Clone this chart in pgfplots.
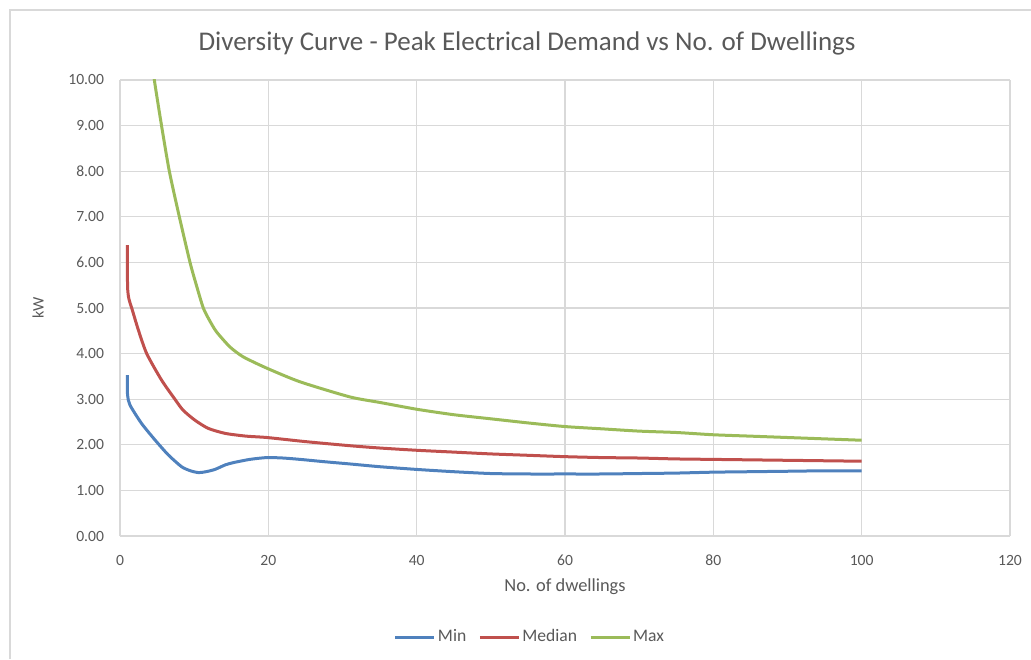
\documentclass[border=0pt]{standalone}
\usepackage{pgfplots}
\pgfplotsset{compat=1.18}
\usepackage{fontspec}
\setmainfont{Carlito}
\definecolor{txt}{HTML}{595959}
\definecolor{gridc}{HTML}{D9D9D9}
\definecolor{cmin}{HTML}{4F81BD}
\definecolor{cmed}{HTML}{C0504D}
\definecolor{cmax}{HTML}{9BBB59}
\begin{document}
\begin{tikzpicture}
\path[use as bounding box] (0,0) rectangle (515.5pt,329.5pt);
\draw[gridc, line width=0.6pt] (5pt,0) -- (5pt,324.5pt) -- (515.5pt,324.5pt);
\node[text=txt, font=\fontsize{13.5pt}{16pt}\selectfont, anchor=center] at (263.5pt,308pt) {Diversity Curve - Peak Electrical Demand vs No. of Dwellings};
\begin{axis}[
  at={(60pt,61.5pt)}, anchor=south west,
  scale only axis, width=445pt, height=228pt,
  xmin=0, xmax=120, ymin=0, ymax=10,
  xtick={0,20,...,120}, ytick={0,1,...,10},
  major tick length=0pt,
  grid=major, major grid style={gridc, line width=0.6pt},
  axis line style={gridc, line width=0.6pt},
  axis x line*=bottom, axis y line*=left,
  /pgf/number format/assume math mode=true,
  yticklabel={\pgfmathprintnumber[fixed,fixed zerofill,precision=2]{\tick}},
  ticklabel style={text=txt, font=\fontsize{7.8pt}{9pt}\selectfont},
  yticklabel style={anchor=east, xshift=-4.5pt},
  xticklabel style={anchor=center, yshift=-12pt},
  xlabel={No. of dwellings}, ylabel={kW},
  label style={text=txt, font=\fontsize{9.2pt}{11pt}\selectfont},
  xlabel style={at={(axis description cs:0.5,0)}, anchor=center, yshift=-25.5pt},
  ylabel style={at={(axis description cs:0,0.5)}, anchor=center, yshift=41pt, font=\fontsize{8pt}{10pt}\selectfont},
  legend columns=3,
  legend style={at={(0.5,0)}, anchor=center, xshift=-17.5pt, yshift=-49.5pt, draw=none, fill=none,
    font=\fontsize{8.8pt}{10pt}\selectfont, text=txt,
    nodes={inner sep=1pt, text height=1.6ex, text depth=0.3ex},
    /tikz/every even column/.append style={column sep=5pt},
    inner sep=0pt},
  legend image code/.code={\draw[#1, line width=1.5pt] (0pt,-0.3ex) -- (19.5pt,-0.3ex);},
  clip=true,
]
\addplot[cmin, line width=1.5pt, smooth, tension=0.4] coordinates {
(1,3.53) (1.02,3.09) (1.35,2.87) (2.9,2.47) (4.7,2.11) (6.5,1.78) (8.3,1.52) (9.5,1.43) (10.6,1.39) (11.6,1.41) (12.8,1.46) (14.2,1.56) (15.3,1.61) (17.5,1.68) (19.8,1.72) (22,1.71) (24.3,1.68) (27.5,1.63) (31,1.58) (35,1.52) (40,1.46) (45,1.41) (50,1.37) (55,1.36) (60,1.36) (65,1.36) (70,1.37) (75,1.38) (80,1.40) (85,1.41) (90,1.42) (95,1.43) (100,1.43)
};
\addlegendentry{Min}
\addplot[cmed, line width=1.5pt, smooth, tension=0.4] coordinates {
(1,6.38) (1.02,5.47) (1.2,5.2) (1.58,5.0) (2.47,4.52) (3.6,4.0) (5.6,3.42) (7.4,3.0) (8.5,2.76) (10.1,2.54) (11.9,2.36) (14.2,2.25) (17,2.19) (19.8,2.16) (25,2.07) (31,1.98) (35,1.93) (40,1.88) (45,1.84) (50,1.80) (55,1.77) (60,1.74) (65,1.72) (70,1.71) (75,1.69) (80,1.68) (85,1.67) (90,1.66) (95,1.65) (100,1.64)
};
\addlegendentry{Median}
\addplot[cmax, line width=1.5pt, smooth, tension=0.4] coordinates {
(3.8,11.0) (4.63,10.0) (5.6,9.0) (6.65,8.0) (8.0,7.0) (9.44,6.0) (10.3,5.5) (11.23,5.0) (12.1,4.72) (13.0,4.48) (14.8,4.15) (16.6,3.93) (19.8,3.68) (24.3,3.38) (31,3.05) (35,2.93) (40,2.78) (45,2.66) (50,2.57) (55,2.48) (60,2.40) (65,2.35) (70,2.30) (75,2.27) (80,2.22) (85,2.19) (90,2.16) (95,2.13) (100,2.10)
};
\addlegendentry{Max}
\end{axis}
\end{tikzpicture}
\end{document}
